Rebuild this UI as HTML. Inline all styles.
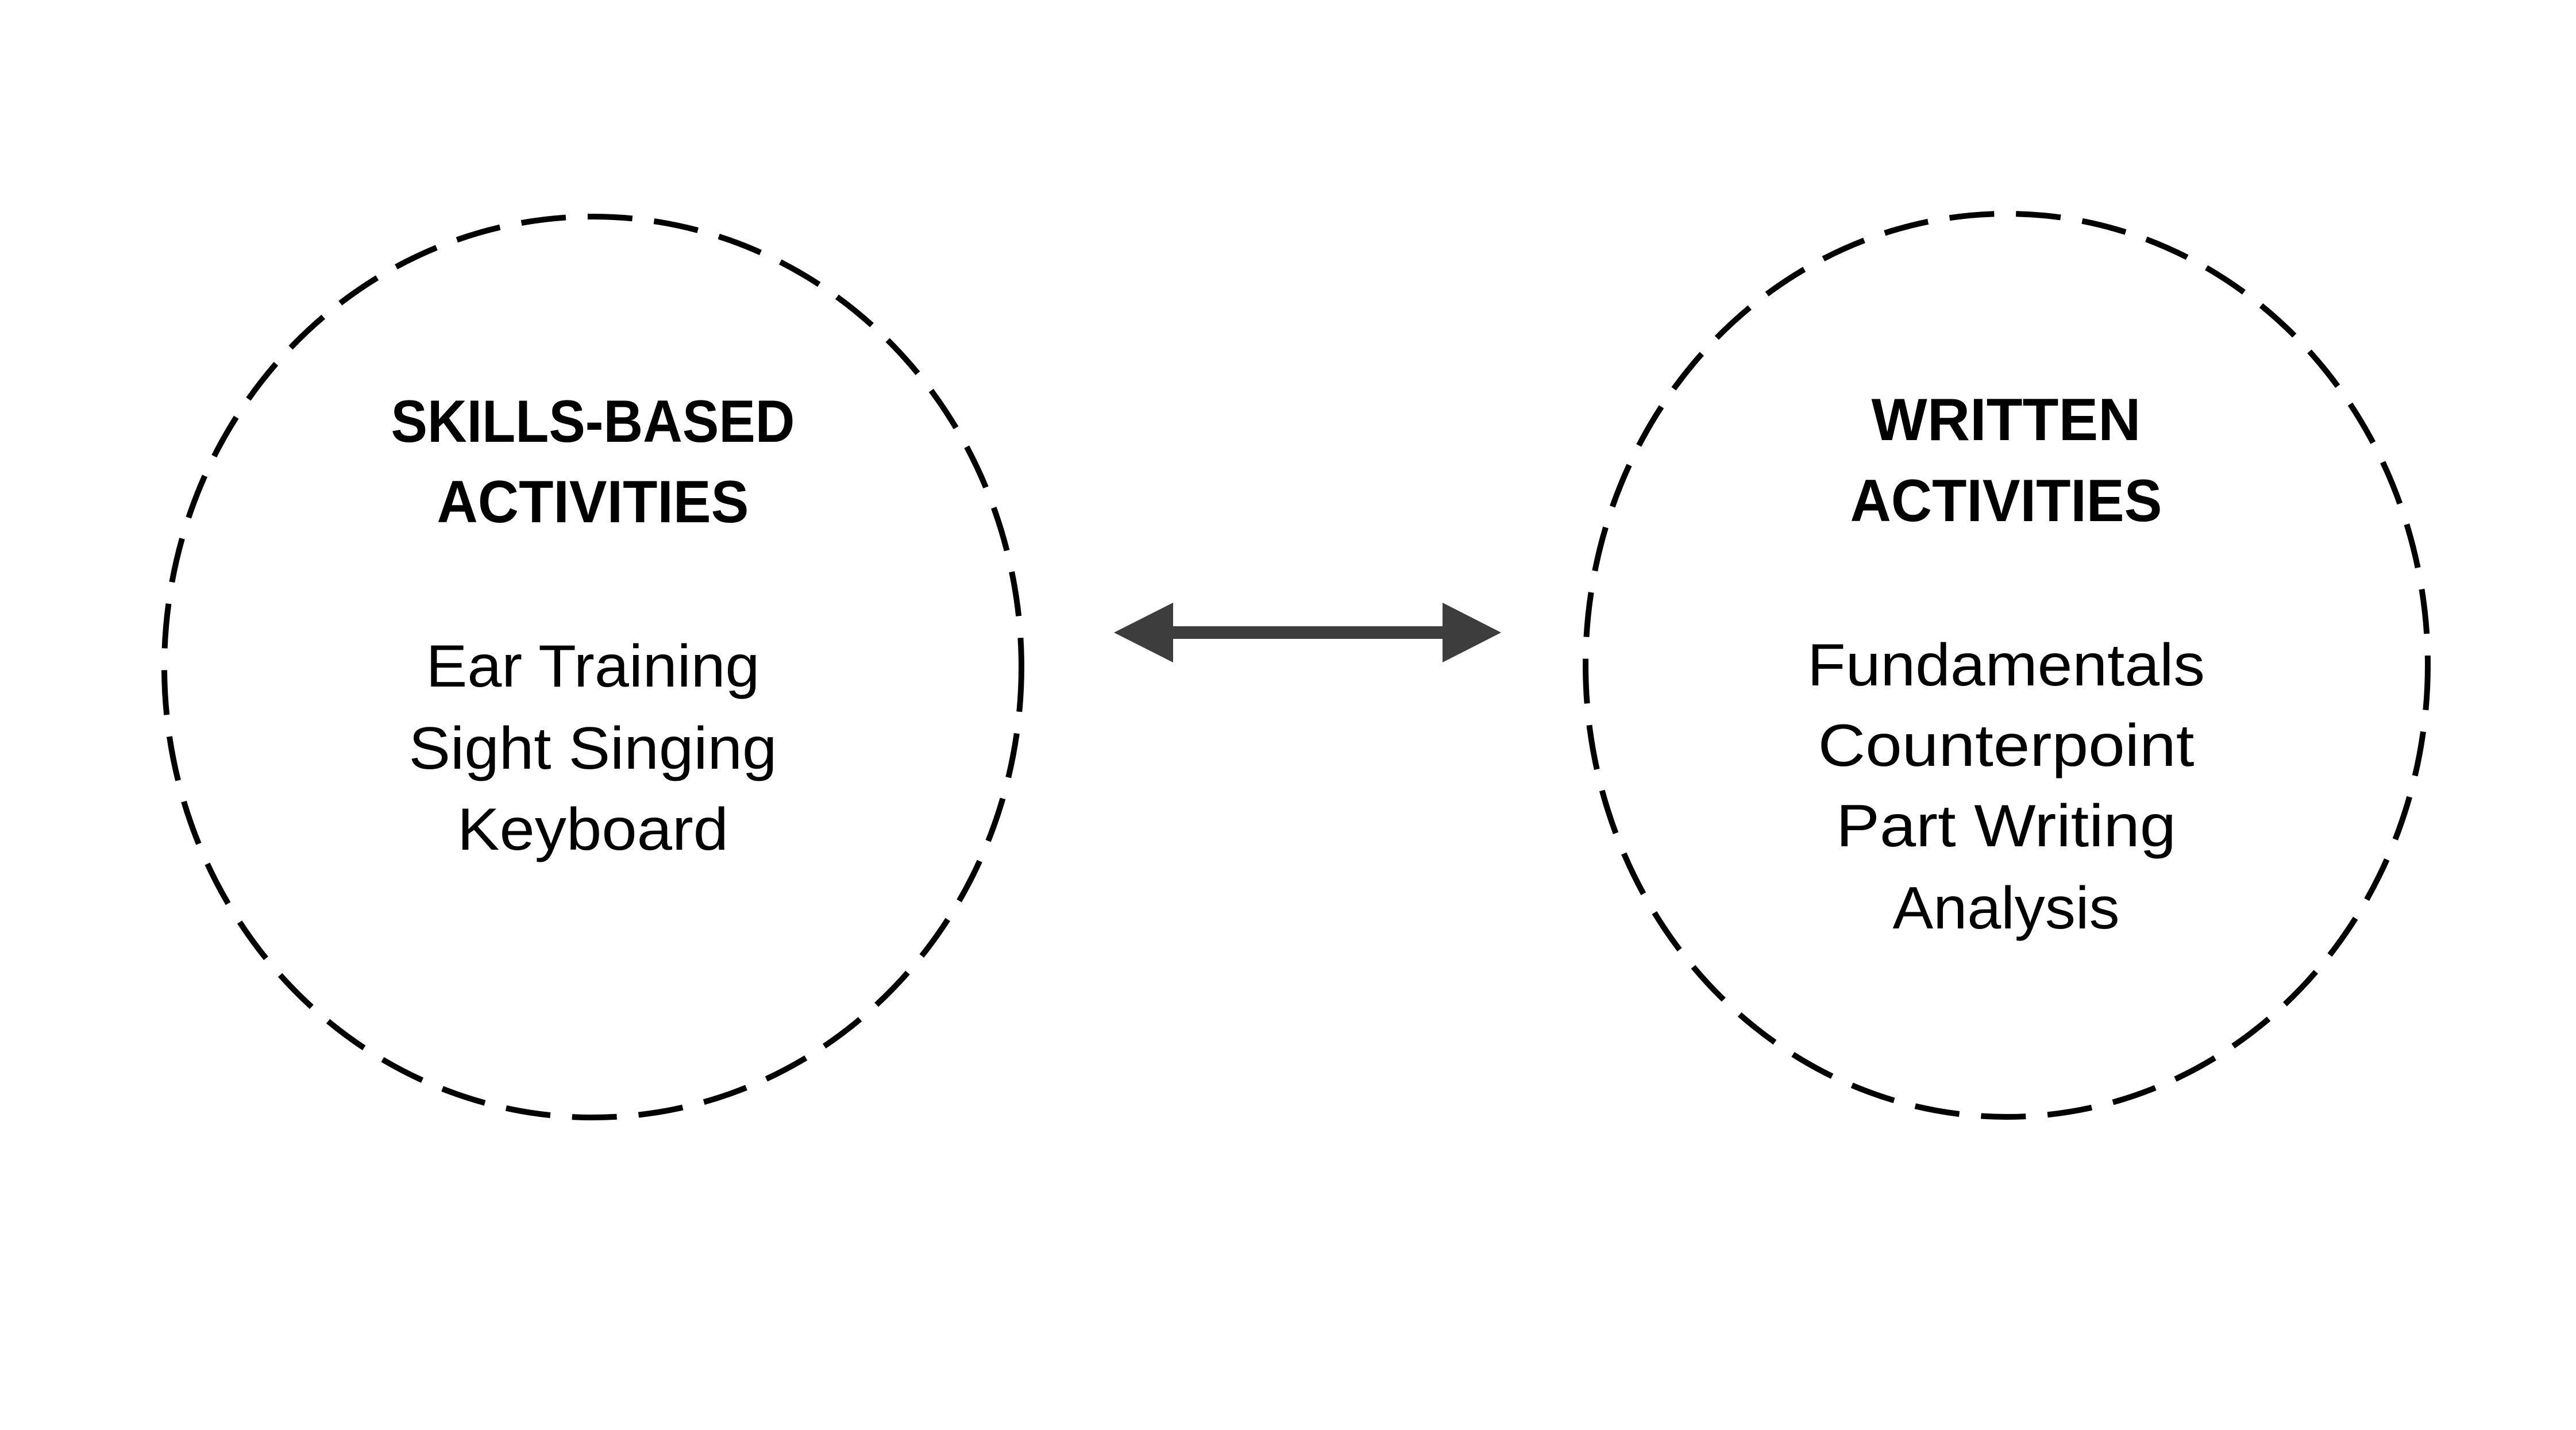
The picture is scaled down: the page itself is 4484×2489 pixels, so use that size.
<!DOCTYPE html>
<html><head><meta charset="utf-8"><style>
html,body{margin:0;padding:0;background:#fff;}
svg{display:block;}
text{font-family:"Liberation Sans",sans-serif;fill:#000;}
</style></head><body>
<svg width="4484" height="2489" viewBox="0 0 4484 2489" xmlns="http://www.w3.org/2000/svg">
<rect width="4484" height="2489" fill="#fff"/>
<ellipse cx="1032" cy="1161" rx="746" ry="784" fill="none" stroke="#000" stroke-width="10" stroke-dasharray="78 38"/>
<ellipse cx="3493" cy="1158" rx="733" ry="786" fill="none" stroke="#000" stroke-width="10" stroke-dasharray="78 38"/>
<polygon fill="#3d3d3d" points="1939,1101 2042,1049 2042,1090 2511,1090 2511,1049 2613,1101 2511,1153 2511,1112 2042,1112 2042,1153"/>
<g text-anchor="middle" font-size="104">
<text x="1032" y="769" font-weight="bold" textLength="703" lengthAdjust="spacingAndGlyphs">SKILLS-BASED</text>
<text x="1032" y="909" font-weight="bold" textLength="543" lengthAdjust="spacingAndGlyphs">ACTIVITIES</text>
<text x="1032" y="1195" textLength="581" lengthAdjust="spacingAndGlyphs">Ear Training</text>
<text x="1032" y="1338" textLength="641" lengthAdjust="spacingAndGlyphs">Sight Singing</text>
<text x="1032" y="1479" textLength="472" lengthAdjust="spacingAndGlyphs">Keyboard</text>
<text x="3492" y="766" font-weight="bold" textLength="469" lengthAdjust="spacingAndGlyphs">WRITTEN</text>
<text x="3492" y="907" font-weight="bold" textLength="543" lengthAdjust="spacingAndGlyphs">ACTIVITIES</text>
<text x="3492" y="1193" textLength="692" lengthAdjust="spacingAndGlyphs">Fundamentals</text>
<text x="3492" y="1333" textLength="655" lengthAdjust="spacingAndGlyphs">Counterpoint</text>
<text x="3492" y="1473" textLength="592" lengthAdjust="spacingAndGlyphs">Part Writing</text>
<text x="3492" y="1616" textLength="395" lengthAdjust="spacingAndGlyphs">Analysis</text>
</g>
</svg>
</body></html>
